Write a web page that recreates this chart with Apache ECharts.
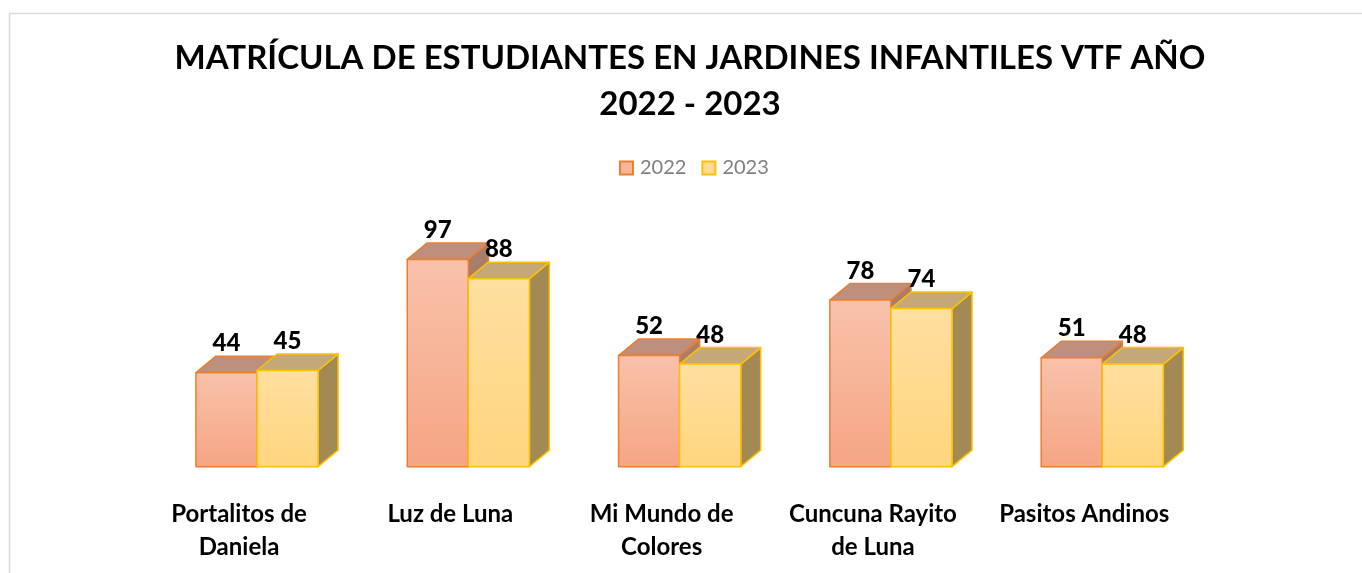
<!DOCTYPE html>
<html>
<head>
<meta charset="utf-8">
<script src="https://cdn.jsdelivr.net/npm/echarts@6/dist/echarts.min.js"></script>
<style>
  html, body { margin: 0; padding: 0; background: #fff; }
  #chart { width: 1362px; height: 573px; }
</style>
</head>
<body>
<div id="chart"></div>
<script>
// datos
var jardines = ["Portalitos de\nDaniela", "Luz de Luna", "Mi Mundo de\nColores", "Cuncuna Rayito\nde Luna", "Pasitos Andinos"];
var matricula2022 = [44, 97, 52, 78, 51];
var matricula2023 = [45, 88, 48, 74, 48];

var FONT = "Lato, 'Open Sans', sans-serif";
var DX = 20, DY = 16.5; // profundidad 3d
var BAR_RATIO = 0.289;

var estilos = [
  { front: ["#F8C2AA", "#F5A584"], topFace: "#BE8F7B", side: "#A67E6B", border: "#ED7D31" },
  { front: ["#FFDFA0", "#FFD57D"], topFace: "#C4A877", side: "#A38A55", border: "#FFC000" }
];

function makeRender(sIdx) {
  var st = estilos[sIdx];
  return function (params, api) {
    var ci = api.value(0), v = api.value(1);
    var base = api.coord([ci, 0]);
    var top = api.coord([ci, v]);
    var w = api.size([1, 0])[0] * BAR_RATIO;
    var x0 = sIdx === 0 ? base[0] - w : base[0];
    var x1 = x0 + w, y0 = base[1], y1 = top[1];
    var line = { stroke: st.border, lineWidth: 1.5, lineJoin: "round" };
    return {
      type: "group",
      children: [
        {
          type: "polygon",
          shape: { points: [[x1, y1], [x1 + DX, y1 - DY], [x1 + DX, y0 - DY], [x1, y0]] },
          style: Object.assign({ fill: st.side }, line)
        },
        {
          type: "polygon",
          shape: { points: [[x0, y1], [x0 + DX, y1 - DY], [x1 + DX, y1 - DY], [x1, y1]] },
          style: Object.assign({ fill: st.topFace }, line)
        },
        {
          type: "rect",
          shape: { x: x0, y: y1, width: w, height: y0 - y1 },
          style: Object.assign({
            fill: { type: "linear", x: 0, y: 0, x2: 0, y2: 1,
              colorStops: [{ offset: 0, color: st.front[0] }, { offset: 1, color: st.front[1] }] }
          }, line)
        },
        {
          type: "text",
          x: (x0 + x1) / 2,
          y: y1 - 29,
          style: { text: String(v), fill: "#000", font: "900 24px " + FONT, align: "center", verticalAlign: "middle" }
        }
      ]
    };
  };
}

var chart = echarts.init(document.getElementById("chart"));
chart.setOption({
  animation: false,
  title: {
    text: "MATRÍCULA DE ESTUDIANTES EN JARDINES INFANTILES VTF AÑO\n2022 - 2023",
    left: 685,
    textAlign: "center",
    top: 30,
    textStyle: { fontFamily: FONT, fontWeight: "bold", fontSize: 33, lineHeight: 46, color: "#000" }
  },
  legend: {
    top: 153,
    left: 614,
    itemWidth: 13,
    itemHeight: 13,
    itemGap: 15,
    icon: "rect",
    textStyle: { fontFamily: FONT, fontSize: 20, color: "#7F7F7F", padding: [0, 0, 0, 2] },
    data: ["2022", "2023"]
  },
  graphic: [{
    type: "rect",
    shape: { x: 9.5, y: 13.5, width: 1400, height: 600 },
    style: { fill: "none", stroke: "#D9D9D9", lineWidth: 1.5 },
    silent: true
  }],
  grid: { left: 151.35, right: 154.1, top: 253, bottom: 106.3 },
  xAxis: {
    type: "category",
    data: jardines,
    axisLine: { show: false },
    axisTick: { show: false },
    axisLabel: {
      interval: 0,
      margin: 31,
      padding: [0, 36, 0, 0],
      fontFamily: FONT,
      fontWeight: "bold",
      fontSize: 24,
      lineHeight: 33,
      color: "#000"
    }
  },
  yAxis: { type: "value", min: 0, max: 100, show: false, splitLine: { show: false } },
  series: [
    {
      name: "2022", type: "custom", z: 2,
      itemStyle: { color: "#F7B69A", borderColor: "#ED7D31", borderWidth: 1.5 },
      renderItem: makeRender(0),
      data: matricula2022.map(function (v, i) { return [i, v]; })
    },
    {
      name: "2023", type: "custom", z: 3,
      itemStyle: { color: "#FFDA90", borderColor: "#FFC000", borderWidth: 1.5 },
      renderItem: makeRender(1),
      data: matricula2023.map(function (v, i) { return [i, v]; })
    }
  ]
});
</script>
</body>
</html>
